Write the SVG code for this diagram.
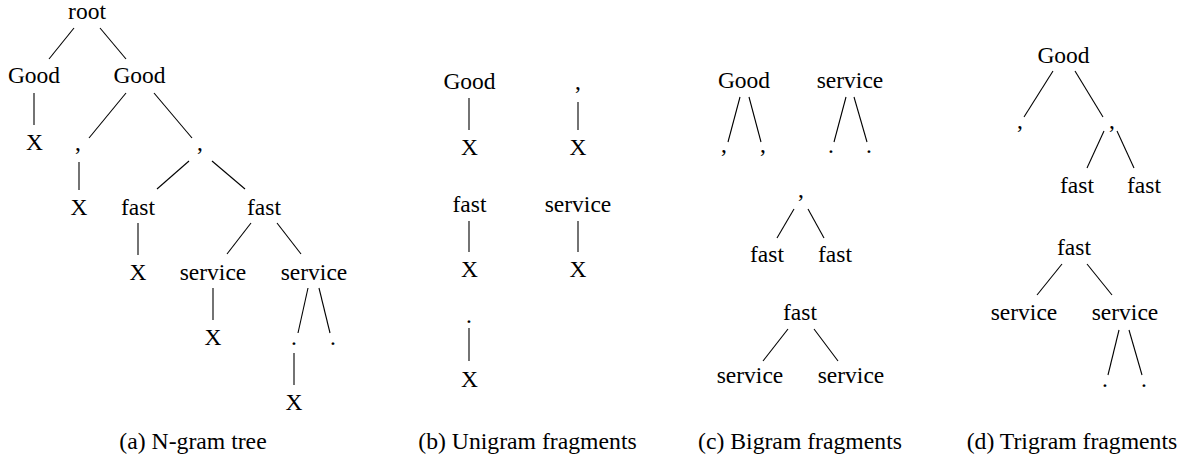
<svg xmlns="http://www.w3.org/2000/svg" width="1188" height="461" viewBox="0 0 1188 461" font-family="'Liberation Serif', 'Times New Roman', serif">
<style>
text{font-family:"Liberation Serif","Times New Roman",serif;font-size:23.5px;fill:#000;text-anchor:middle}
.cap{font-size:23.7px}
#connectors line{stroke:#000;stroke-width:1.1;fill:none}
</style>
<rect width="1188" height="461" fill="#fff"/>
<g id="connectors">
<line x1="74" y1="28" x2="49" y2="59"/>
<line x1="100" y1="28" x2="126" y2="59"/>
<line x1="34" y1="93" x2="34" y2="125"/>
<line x1="126" y1="93" x2="89" y2="138"/>
<line x1="154" y1="93" x2="192" y2="138"/>
<line x1="79" y1="162" x2="79" y2="190"/>
<line x1="189" y1="161" x2="157" y2="189"/>
<line x1="212" y1="161" x2="245" y2="189"/>
<line x1="138" y1="223" x2="138" y2="255"/>
<line x1="251" y1="223" x2="227" y2="254"/>
<line x1="277" y1="223" x2="301" y2="254"/>
<line x1="213" y1="288" x2="213" y2="320"/>
<line x1="308" y1="288" x2="298" y2="333"/>
<line x1="319" y1="288" x2="330" y2="333"/>
<line x1="294" y1="353" x2="294" y2="385"/>
<line x1="469" y1="98" x2="469" y2="130"/>
<line x1="578" y1="102" x2="578" y2="130"/>
<line x1="469" y1="221" x2="469" y2="252"/>
<line x1="578" y1="221" x2="578" y2="252"/>
<line x1="469" y1="328" x2="469" y2="361"/>
<line x1="740" y1="97" x2="728" y2="142"/>
<line x1="749" y1="97" x2="761" y2="142"/>
<line x1="846" y1="97" x2="834" y2="142"/>
<line x1="854" y1="97" x2="867" y2="142"/>
<line x1="794" y1="209" x2="777" y2="238"/>
<line x1="808" y1="209" x2="824" y2="238"/>
<line x1="788" y1="329" x2="763" y2="361"/>
<line x1="814" y1="329" x2="838" y2="361"/>
<line x1="1053" y1="71" x2="1024" y2="117"/>
<line x1="1075" y1="71" x2="1103" y2="117"/>
<line x1="1104" y1="131" x2="1087" y2="168"/>
<line x1="1117" y1="131" x2="1134" y2="168"/>
<line x1="1062" y1="264" x2="1037" y2="295"/>
<line x1="1087" y1="264" x2="1112" y2="295"/>
<line x1="1119" y1="330" x2="1108" y2="375"/>
<line x1="1129" y1="330" x2="1142" y2="375"/>
</g>
<g id="a_root"><text x="87" y="19">root</text></g>
<g id="a_good1"><text x="34" y="83">Good</text></g>
<g id="a_good2"><text x="139.5" y="83">Good</text></g>
<g id="a_x1"><text x="34.5" y="150">X</text></g>
<g id="a_comma1"><text x="78" y="150">,</text></g>
<g id="a_comma2"><text x="200" y="150">,</text></g>
<g id="a_x2"><text x="79" y="215">X</text></g>
<g id="a_fast1"><text x="138" y="215">fast</text></g>
<g id="a_fast2"><text x="264" y="215">fast</text></g>
<g id="a_x3"><text x="138" y="280">X</text></g>
<g id="a_service1"><text x="213" y="280">service</text></g>
<g id="a_service2"><text x="314" y="280">service</text></g>
<g id="a_x4"><text x="213" y="345">X</text></g>
<g id="a_dot1"><text x="294" y="345">.</text></g>
<g id="a_dot2"><text x="333" y="345">.</text></g>
<g id="a_x5"><text x="294" y="410">X</text></g>
<g id="b_good"><text x="469.5" y="89">Good</text></g>
<g id="b_x1"><text x="469.5" y="155">X</text></g>
<g id="b_comma"><text x="578" y="89">,</text></g>
<g id="b_x2"><text x="578" y="155">X</text></g>
<g id="b_fast"><text x="469.5" y="212">fast</text></g>
<g id="b_x3"><text x="469.5" y="277">X</text></g>
<g id="b_service"><text x="578" y="212">service</text></g>
<g id="b_x4"><text x="578" y="277">X</text></g>
<g id="b_dot"><text x="469" y="323">.</text></g>
<g id="b_x5"><text x="469.5" y="387">X</text></g>
<g id="c_good"><text x="744" y="88">Good</text></g>
<g id="c_comma1"><text x="724" y="152">,</text></g>
<g id="c_comma2"><text x="763" y="152">,</text></g>
<g id="c_service"><text x="850" y="88">service</text></g>
<g id="c_dot1"><text x="831" y="153">.</text></g>
<g id="c_dot2"><text x="869" y="153">.</text></g>
<g id="c_comma3"><text x="801" y="197">,</text></g>
<g id="c_fast1"><text x="767" y="262">fast</text></g>
<g id="c_fast2"><text x="835" y="262">fast</text></g>
<g id="c_fast3"><text x="800" y="320">fast</text></g>
<g id="c_service1"><text x="750" y="383">service</text></g>
<g id="c_service2"><text x="851" y="383">service</text></g>
<g id="d_good"><text x="1063.5" y="63">Good</text></g>
<g id="d_comma1"><text x="1020" y="128">,</text></g>
<g id="d_comma2"><text x="1112" y="128">,</text></g>
<g id="d_fast1"><text x="1077" y="193">fast</text></g>
<g id="d_fast2"><text x="1144" y="193">fast</text></g>
<g id="d_fast3"><text x="1074" y="255">fast</text></g>
<g id="d_service1"><text x="1024" y="320">service</text></g>
<g id="d_service2"><text x="1125" y="320">service</text></g>
<g id="d_dot1"><text x="1105" y="387">.</text></g>
<g id="d_dot2"><text x="1144" y="387">.</text></g>
<g id="captions">
<text class="cap" x="193" y="449">(a) N-gram tree</text>
<text class="cap" x="527.5" y="449">(b) Unigram fragments</text>
<text class="cap" x="800" y="449">(c) Bigram fragments</text>
<text class="cap" x="1072" y="449">(d) Trigram fragments</text>
</g>
</svg>
